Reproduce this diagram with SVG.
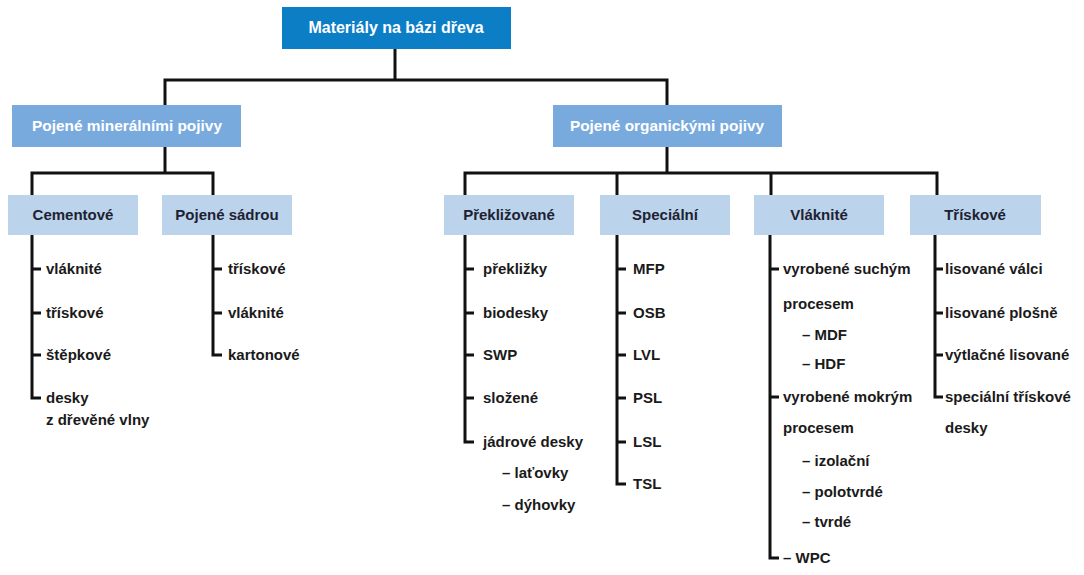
<svg xmlns="http://www.w3.org/2000/svg" width="1084" height="575" viewBox="0 0 1084 575">
<style>
text{font-family:"Liberation Sans",Arial,sans-serif;font-weight:bold;font-size:15px}
.t1{fill:#0c7ec6}
.t2{fill:#79aade}
.t3{fill:#bcd3ec}
.w{fill:#ffffff;text-anchor:middle}
.big{font-size:16px}
.h{fill:#1c2233;text-anchor:middle}
.i{fill:#1a1a1a}
.c{fill:none;stroke:#111;stroke-width:3;stroke-linejoin:miter;stroke-linecap:butt}
</style>
<rect width="1084" height="575" fill="#ffffff"/>
<g id="connectors" class="c">
<path d="M395 49V80M165 80H667M165 78.5V105M667 78.5V105"/>
<path d="M165 147V173M32 173H213M32 171.5V195M213 171.5V195"/>
<path d="M667 147V173M465 173H937M465 171.5V195M617 171.5V195M771 171.5V195M937 171.5V195"/>
<path d="M32 235V398H41M32 269H41M32 313H41M32 355H41"/>
<path d="M213 235V355H222M213 269H222M213 313H222"/>
<path d="M465 235V442H474M465 269H474M465 313H474M465 355H474M465 398H474"/>
<path d="M617 235V484H626M617 269H626M617 313H626M617 355H626M617 398H626M617 442H626"/>
<path d="M770 235V558H779M770 269H779M770 397H779"/>
<path d="M935 235V397H943M935 269H943M935 313H943M935 355H943"/>
</g>
<g id="root">
<rect class="t1" x="282" y="7" width="229" height="42"/>
<text class="w big" x="396" y="33">Materiály na bázi dřeva</text>
</g>
<g id="mineral">
<rect class="t2" x="12" y="105" width="229" height="42"/>
<text class="w" x="127" y="131" style="font-size:15.4px">Pojené minerálními pojivy</text>
</g>
<g id="organic">
<rect class="t2" x="553" y="105" width="229" height="42"/>
<text class="w" x="667" y="131" style="font-size:15.4px">Pojené organickými pojivy</text>
</g>
<g id="cementove">
<rect class="t3" x="8" y="195" width="130" height="40"/>
<text class="h" x="73" y="220">Cementové</text>
<text class="i" x="46" y="274">vláknité</text>
<text class="i" x="46" y="318">třískové</text>
<text class="i" x="46" y="360">štěpkové</text>
<text class="i" x="46" y="403">desky</text>
<text class="i" x="46" y="425">z dřevěné vlny</text>
</g>
<g id="sadrou">
<rect class="t3" x="162" y="195" width="130" height="40"/>
<text class="h" x="227" y="220">Pojené sádrou</text>
<text class="i" x="228" y="274">třískové</text>
<text class="i" x="228" y="318">vláknité</text>
<text class="i" x="228" y="360">kartonové</text>
</g>
<g id="preklizovane">
<rect class="t3" x="444" y="195" width="130" height="40"/>
<text class="h" x="509" y="220">Překližované</text>
<text class="i" x="483" y="274">překližky</text>
<text class="i" x="483" y="318">biodesky</text>
<text class="i" x="483" y="360">SWP</text>
<text class="i" x="483" y="403">složené</text>
<text class="i" x="483" y="447">jádrové desky</text>
<text class="i" x="502" y="478">– laťovky</text>
<text class="i" x="502" y="510">– dýhovky</text>
</g>
<g id="specialni">
<rect class="t3" x="600" y="195" width="130" height="40"/>
<text class="h" x="665" y="220">Speciální</text>
<text class="i" x="633" y="274">MFP</text>
<text class="i" x="633" y="318">OSB</text>
<text class="i" x="633" y="360">LVL</text>
<text class="i" x="633" y="403">PSL</text>
<text class="i" x="633" y="447">LSL</text>
<text class="i" x="633" y="489">TSL</text>
</g>
<g id="vlaknite">
<rect class="t3" x="754" y="195" width="130" height="40"/>
<text class="h" x="819" y="220">Vláknité</text>
<text class="i" x="783" y="274">vyrobené suchým</text>
<text class="i" x="783" y="309">procesem</text>
<text class="i" x="802" y="340">– MDF</text>
<text class="i" x="802" y="369">– HDF</text>
<text class="i" x="783" y="402">vyrobené mokrým</text>
<text class="i" x="783" y="433">procesem</text>
<text class="i" x="802" y="466">– izolační</text>
<text class="i" x="802" y="497">– polotvrdé</text>
<text class="i" x="802" y="527">– tvrdé</text>
<text class="i" x="783" y="563">– WPC</text>
</g>
<g id="triskove">
<rect class="t3" x="910" y="195" width="131" height="40"/>
<text class="h" x="975" y="220">Třískové</text>
<text class="i" x="945" y="274">lisované válci</text>
<text class="i" x="945" y="318">lisované plošně</text>
<text class="i" x="945" y="360">výtlačné lisované</text>
<text class="i" x="945" y="402">speciální třískové</text>
<text class="i" x="945" y="433">desky</text>
</g>
</svg>
